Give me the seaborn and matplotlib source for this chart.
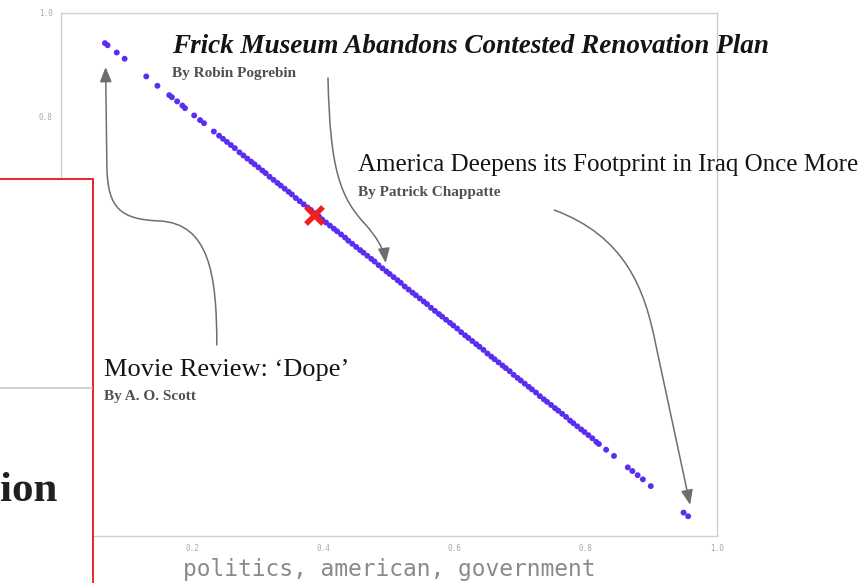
import matplotlib
matplotlib.use("Agg")
import matplotlib.pyplot as plt
import seaborn as sns
import pandas as pd
from matplotlib.path import Path
from matplotlib.patches import FancyArrowPatch, Rectangle
from matplotlib.lines import Line2D

# topic weights of each article (x: politics/american/government, y: the other topic)
topic_a = [0.067, 0.071, 0.085, 0.097, 0.130, 0.147, 0.165, 0.169, 0.177, 0.185,
           0.189, 0.203, 0.212, 0.218, 0.233, 0.241, 0.247, 0.253, 0.259, 0.265,
           0.272, 0.278, 0.284, 0.290, 0.295, 0.301, 0.307, 0.312, 0.318, 0.324,
           0.330, 0.335, 0.341, 0.347, 0.352, 0.358, 0.364, 0.370, 0.376, 0.381,
           0.387, 0.393, 0.398, 0.404, 0.410, 0.416, 0.421, 0.427, 0.433, 0.438,
           0.444, 0.450, 0.456, 0.461, 0.467, 0.473, 0.478, 0.484, 0.490, 0.496,
           0.501, 0.507, 0.513, 0.518, 0.524, 0.530, 0.536, 0.541, 0.547, 0.553,
           0.558, 0.564, 0.570, 0.576, 0.581, 0.587, 0.593, 0.598, 0.604, 0.610,
           0.616, 0.621, 0.627, 0.633, 0.638, 0.644, 0.650, 0.656, 0.661, 0.667,
           0.673, 0.678, 0.684, 0.690, 0.696, 0.701, 0.707, 0.713, 0.718, 0.724,
           0.730, 0.736, 0.741, 0.747, 0.753, 0.758, 0.764, 0.770, 0.776, 0.781,
           0.787, 0.793, 0.798, 0.804, 0.810, 0.816, 0.820, 0.831, 0.843, 0.864,
           0.871, 0.879, 0.887, 0.899, 0.949, 0.956]
topic_b = [0.942, 0.938, 0.924, 0.912, 0.878, 0.860, 0.842, 0.838, 0.830, 0.822,
           0.817, 0.803, 0.794, 0.788, 0.772, 0.764, 0.758, 0.752, 0.746, 0.740,
           0.732, 0.726, 0.720, 0.714, 0.709, 0.703, 0.697, 0.692, 0.685, 0.679,
           0.673, 0.668, 0.662, 0.656, 0.651, 0.644, 0.638, 0.632, 0.626, 0.621,
           0.615, 0.609, 0.603, 0.597, 0.591, 0.585, 0.580, 0.574, 0.568, 0.562,
           0.556, 0.550, 0.544, 0.539, 0.533, 0.527, 0.522, 0.515, 0.509, 0.503,
           0.498, 0.492, 0.486, 0.481, 0.474, 0.468, 0.462, 0.457, 0.451, 0.445,
           0.440, 0.433, 0.427, 0.421, 0.416, 0.410, 0.404, 0.399, 0.393, 0.386,
           0.380, 0.375, 0.369, 0.363, 0.358, 0.352, 0.345, 0.339, 0.334, 0.328,
           0.322, 0.317, 0.311, 0.304, 0.298, 0.293, 0.287, 0.281, 0.276, 0.270,
           0.263, 0.257, 0.252, 0.246, 0.240, 0.235, 0.229, 0.223, 0.216, 0.211,
           0.205, 0.199, 0.194, 0.188, 0.182, 0.175, 0.171, 0.160, 0.148, 0.126,
           0.119, 0.111, 0.103, 0.090, 0.039, 0.032]

# the article marked with the red X
marked_a = [0.385]
marked_b = [0.612]

ticks = [0.0, 0.2, 0.4, 0.6, 0.8, 1.0]
x_label = "politics, american, government"

headlines = ["Frick Museum Abandons Contested Renovation Plan",
             "America Deepens its Footprint in Iraq Once More",
             "Movie Review: \u2018Dope\u2019"]
bylines = ["By Robin Pogrebin", "By Patrick Chappatte", "By A. O. Scott"]

W, H = 865, 583
sns.set_style("white")
fig = plt.figure(figsize=(W / 100, H / 100), dpi=100)
ax = fig.add_axes([61 / W, 1 - 536 / H, 656 / W, 523 / H])

df = pd.DataFrame({"a": topic_a, "b": topic_b})
sns.scatterplot(data=df, x="a", y="b", ax=ax, color="#5a2df0", s=18,
                edgecolor="none", linewidth=0, zorder=3)
sns.scatterplot(x=marked_a, y=marked_b, ax=ax, marker="x", s=150,
                color="#f21d1d", linewidth=3.8, zorder=4)

ax.set_xlim(0.008, 1.0)
ax.set_ylim(-0.006, 1.0)
ax.set_xticks(ticks)
ax.set_yticks(ticks)
ax.set_xticklabels(["%.1f" % t for t in ticks])
ax.set_yticklabels(["%.1f" % t for t in ticks])
ax.tick_params(length=0, labelsize=5.5, labelcolor="#a8a8a8", pad=6)
for lbl in ax.get_xticklabels() + ax.get_yticklabels():
    lbl.set_family("DejaVu Sans Mono")
for sp in ax.spines.values():
    sp.set_color("#d0d0d0")
    sp.set_linewidth(1)
ax.set_xlabel(x_label, family="DejaVu Sans Mono", size=16.5, color="#8a8a8a", va="center")
ax.xaxis.set_label_coords(0.5, -0.065)
ax.set_ylabel("")

# curved arrows from the headlines to their points
arrow_kw = dict(arrowstyle="-|>,head_length=0.75,head_width=0.3", mutation_scale=12,
                color="#6e6e6e", lw=1.1, transform=ax.transData, clip_on=False, zorder=5)
C4, MV, LT = Path.CURVE4, Path.MOVETO, Path.LINETO
arrow_paths = [
    Path([(0.2375, 0.3615), (0.2375, 0.50), (0.225, 0.595), (0.150, 0.600),
          (0.090, 0.603), (0.072, 0.625), (0.070, 0.700), (0.068, 0.896)],
         [MV, C4, C4, C4, C4, C4, C4, LT]),
    Path([(0.407, 0.875), (0.410, 0.70), (0.425, 0.645), (0.465, 0.592),
          (0.480, 0.570), (0.492, 0.548), (0.495, 0.519)],
         [MV, C4, C4, C4, C4, C4, C4]),
    Path([(0.752, 0.621), (0.86, 0.57), (0.89, 0.47), (0.907, 0.36), (0.959, 0.054)],
         [MV, C4, C4, C4, LT]),
]
for p in arrow_paths:
    ax.add_patch(FancyArrowPatch(path=p, **arrow_kw))

# headline labels (pixel positions from the screenshot)
head_pos = [(172, 53, 19.5, "bold", "italic"), (358, 171, 18, "normal", "normal"),
            (104, 376, 19, "normal", "normal")]
by_pos = [(172, 77), (358, 196), (104, 400)]
for txt, (x, y, size, wt, st) in zip(headlines, head_pos):
    fig.text(x / W, 1 - y / H, txt, family="Liberation Serif", size=size,
             weight=wt, style=st, color="#141414", va="baseline")
for txt, (x, y) in zip(bylines, by_pos):
    fig.text(x / W, 1 - y / H, txt, family="Liberation Serif", size=11,
             weight="bold", color="#505050", va="baseline")

# the overlapping page panel with the red frame
fig.add_artist(Rectangle((-10 / W, -10 / H), 103 / W, (H - 179 + 10) / H,
                         transform=fig.transFigure, facecolor="white",
                         edgecolor="#e8141c", lw=1.3, zorder=10))
fig.add_artist(Line2D([0, 92 / W], [1 - 388 / H, 1 - 388 / H], transform=fig.transFigure,
                      color="#c8c8c8", lw=1.2, zorder=11))
fig.text(57 / W, 1 - 501 / H, "ion", ha="right", va="baseline", family="Liberation Serif",
         weight="bold", size=31, color="#202020", zorder=12)

plt.savefig("out.png", dpi=100)
